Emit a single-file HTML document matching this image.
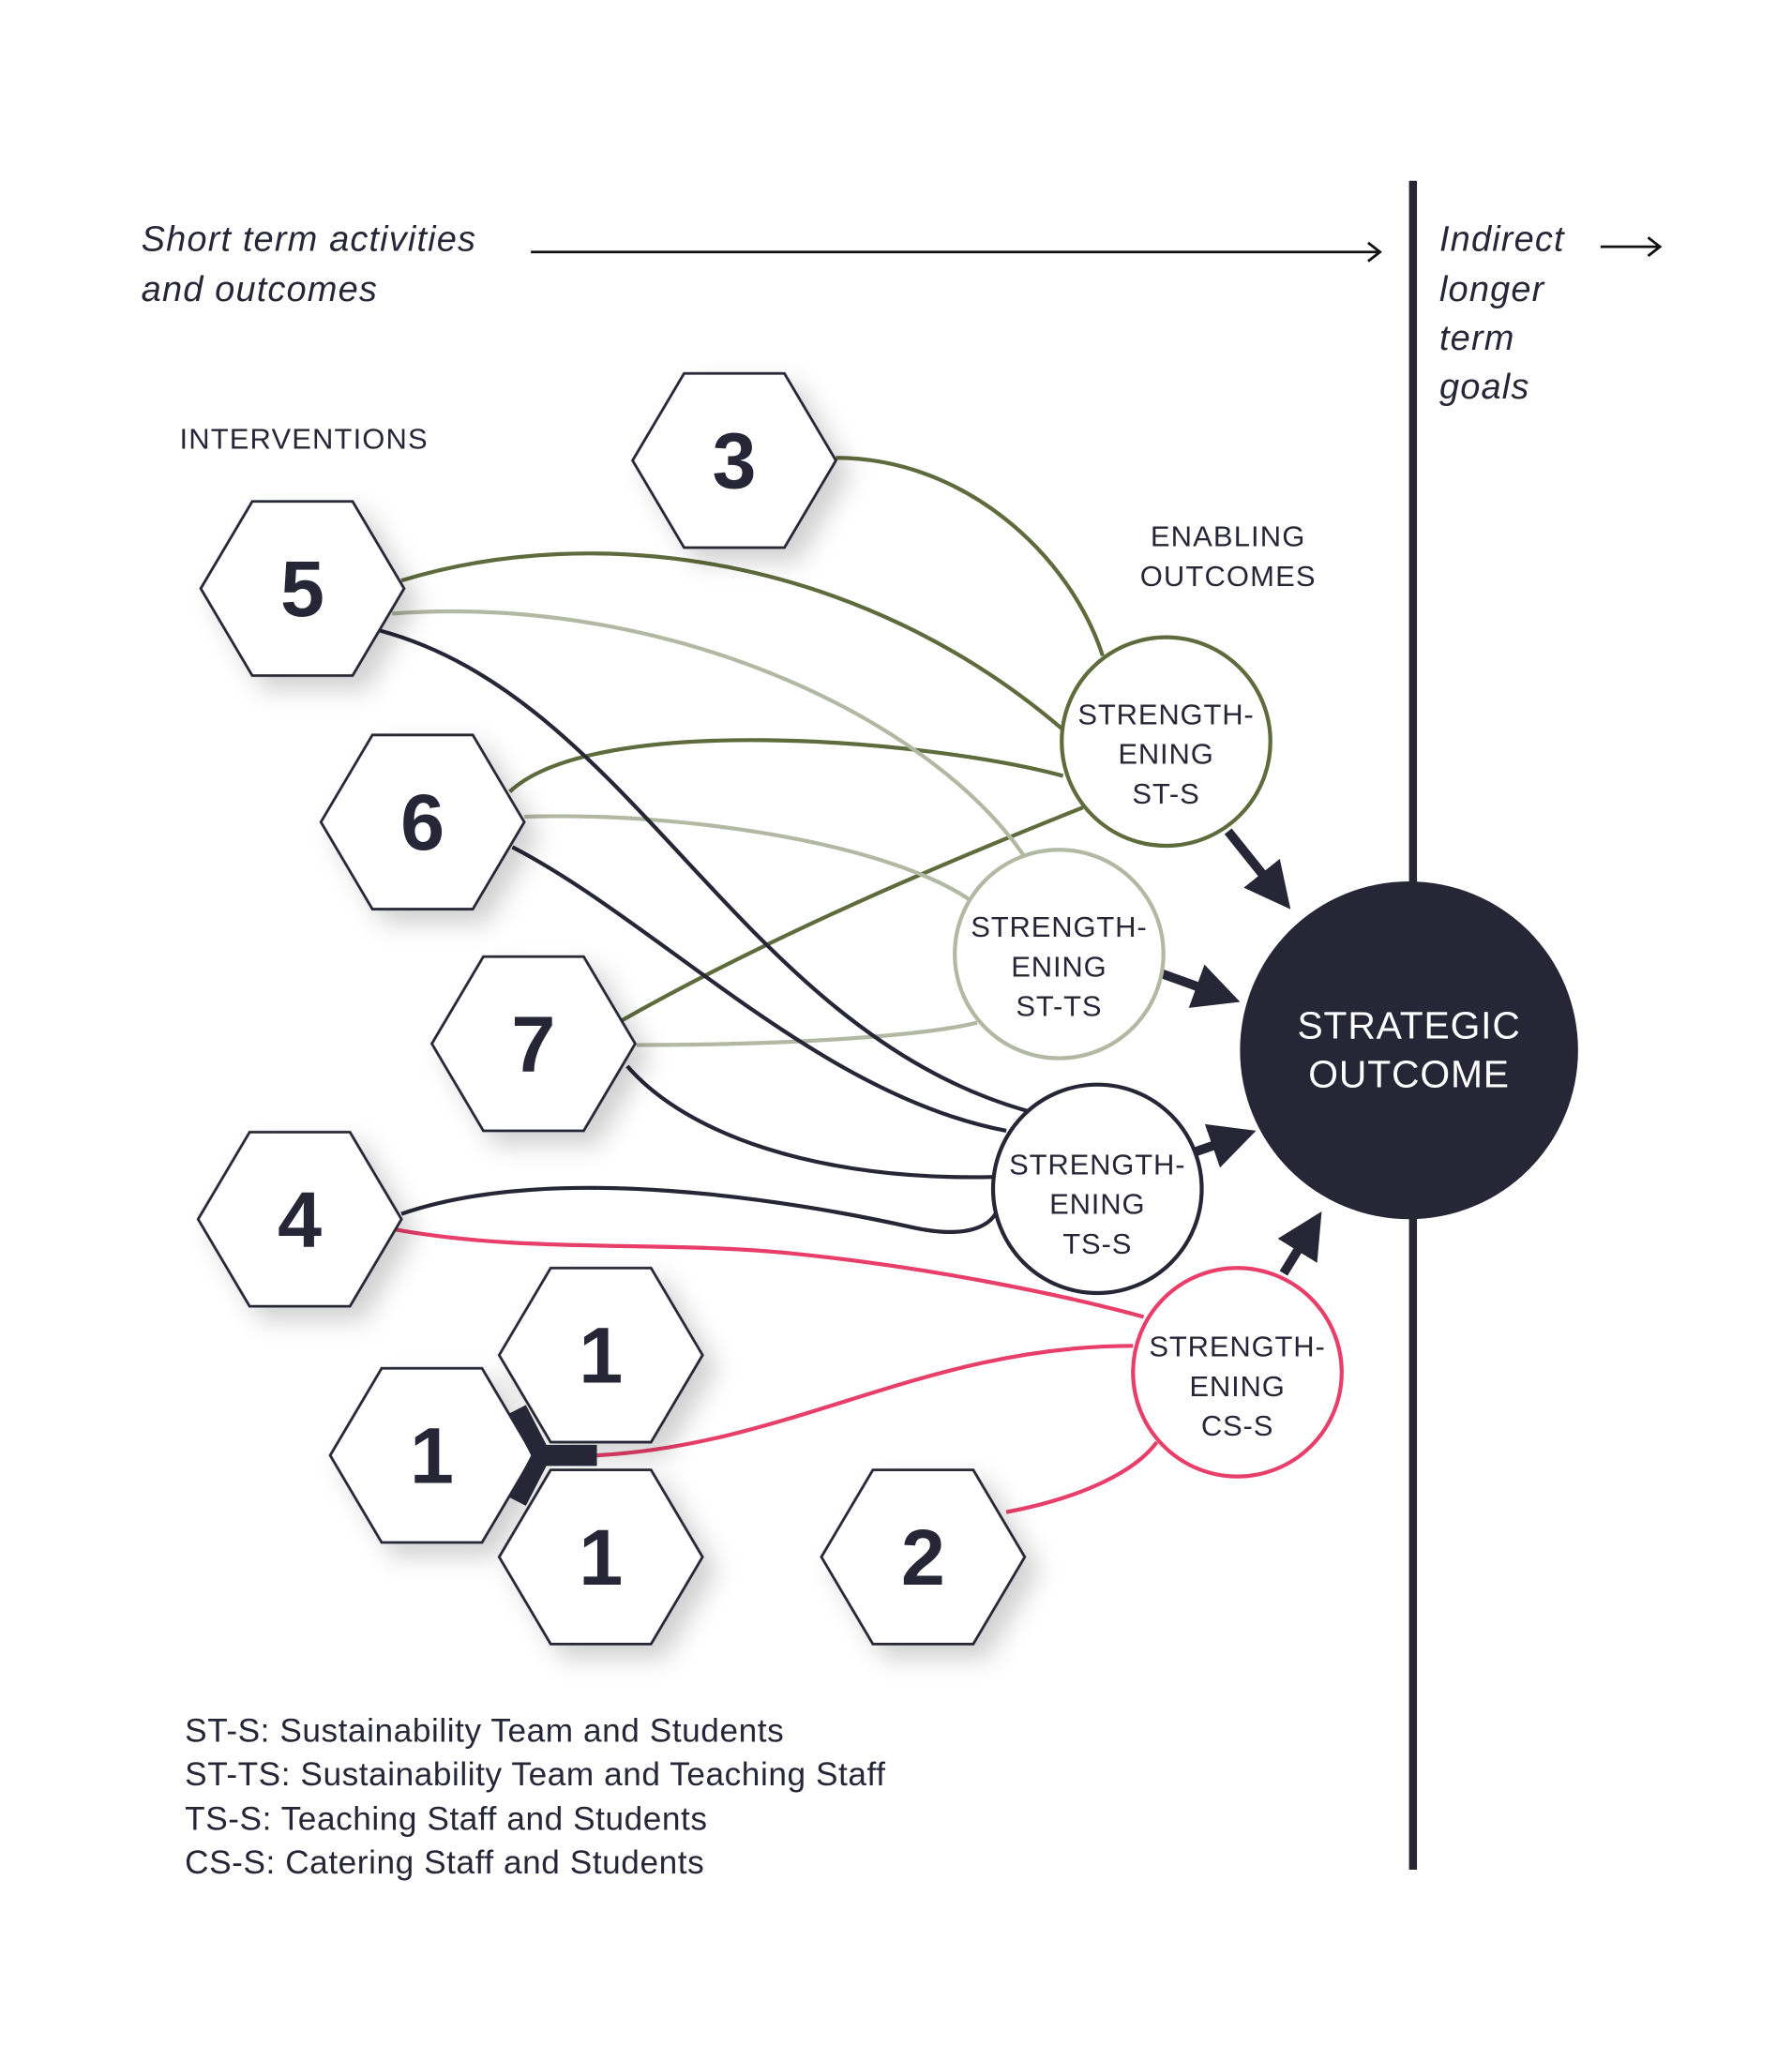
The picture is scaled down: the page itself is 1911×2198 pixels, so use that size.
<!DOCTYPE html>
<html><head><meta charset="utf-8"><style>
html,body{margin:0;padding:0;background:#fff;}
svg{display:block;}
text{font-family:"Liberation Sans",sans-serif;fill:#272636;}
</style></head><body>
<svg width="1911" height="2198" viewBox="0 0 1357 1562" preserveAspectRatio="none" xmlns="http://www.w3.org/2000/svg">
<defs>
<filter id="sh" x="-30%" y="-30%" width="170%" height="170%">
<feDropShadow dx="10" dy="10" stdDeviation="9" flood-color="#000" flood-opacity="0.18"/>
</filter>
<marker id="ah" markerWidth="5" markerHeight="5" refX="1.5" refY="2.5" orient="auto" markerUnits="strokeWidth">
<path d="M0,0 L5,2.5 L0,5 z" fill="#272636"/>
</marker>
<symbol id="hex" overflow="visible"><polygon points="-77,0 -38,-66 38,-66 77,0 38,66 -38,66" fill="#fff" stroke="#272636" stroke-width="2"/></symbol>
</defs>

<rect x="1067" y="137" width="6" height="1280" fill="#272636"/>

<text x="107" y="190" font-size="27" font-style="italic" letter-spacing="0.8">Short term activities</text>
<text x="107" y="228" font-size="27" font-style="italic" letter-spacing="0.8">and outcomes</text>
<line x1="402" y1="191" x2="1044" y2="191" stroke="#111" stroke-width="2"/>
<path d="M1036,184 L1045,191 L1036,198" fill="none" stroke="#111" stroke-width="2"/>
<text x="1090" y="190" font-size="27" font-style="italic" letter-spacing="0.8">Indirect</text>
<text x="1090" y="228" font-size="27" font-style="italic" letter-spacing="0.8">longer</text>
<text x="1090" y="265" font-size="27" font-style="italic" letter-spacing="0.8">term</text>
<text x="1090" y="302" font-size="27" font-style="italic" letter-spacing="0.8">goals</text>
<line x1="1212" y1="187" x2="1256" y2="187" stroke="#111" stroke-width="2"/>
<path d="M1248,180 L1257,187 L1248,194" fill="none" stroke="#111" stroke-width="2"/>

<text x="136" y="340" font-size="22" letter-spacing="0.8">INTERVENTIONS</text>
<text x="930" y="414" font-size="22" text-anchor="middle" letter-spacing="0.8">ENABLING</text>
<text x="930" y="444" font-size="22" text-anchor="middle" letter-spacing="0.8">OUTCOMES</text>

<g fill="none" stroke-width="3">
<path d="M633,347 C730,347 810,420 835,497" stroke="#5e6b3c"/>
<path d="M304,440 C450,395 650,420 805,553" stroke="#5e6b3c"/>
<path d="M386,600 C450,540 700,560 805,588" stroke="#5e6b3c"/>
<path d="M468,775 C600,700 750,640 820,612" stroke="#5e6b3c"/>
<path d="M297,465 C500,450 700,540 775,648" stroke="#b3b8a3"/>
<path d="M397,619 C520,615 680,640 740,686" stroke="#b3b8a3"/>
<path d="M482,792 C600,792 700,785 740,775" stroke="#b3b8a3"/>
<path d="M288,478 C480,530 560,780 778,842" stroke="#272636"/>
<path d="M388,642 C500,700 620,830 762,857" stroke="#272636"/>
<path d="M475,808 C520,860 620,895 752,892" stroke="#272636"/>
<path d="M304,920 C420,880 600,910 690,930 C735,940 752,928 756,915" stroke="#272636"/>
<path d="M300,932 C400,950 500,940 600,950 C700,960 800,980 866,998" stroke="#e83e6a"/>
<path d="M452,1103 C600,1095 700,1020 858,1020" stroke="#e83e6a"/>
<path d="M762,1146 C820,1135 860,1115 876,1093" stroke="#e83e6a"/>
</g>

<g stroke="#272636" stroke-width="7" fill="none" marker-end="url(#ah)">
<line x1="930" y1="630" x2="962" y2="670"/>
<line x1="880" y1="738" x2="916" y2="751"/>
<line x1="905" y1="873" x2="928" y2="865"/>
<line x1="972" y1="965" x2="988" y2="939"/>
</g>

<g filter="url(#sh)">
<use href="#hex" x="556" y="349"/>
<use href="#hex" x="229" y="446"/>
<use href="#hex" x="320" y="623"/>
<use href="#hex" x="404" y="791"/>
<use href="#hex" x="227" y="924"/>
<use href="#hex" x="455" y="1027"/>
<use href="#hex" x="327" y="1103"/>
<use href="#hex" x="455" y="1180"/>
<use href="#hex" x="699" y="1180"/>
</g>
<path d="M392,1068 L410,1103 L392,1138" fill="none" stroke="#272636" stroke-width="14"/>
<line x1="405" y1="1103" x2="452" y2="1103" stroke="#272636" stroke-width="16"/>

<g font-size="60" font-weight="bold" text-anchor="middle">
<text x="556" y="370">3</text>
<text x="229" y="467">5</text>
<text x="320" y="644">6</text>
<text x="404" y="812">7</text>
<text x="227" y="945">4</text>
<text x="455" y="1048">1</text>
<text x="327" y="1124">1</text>
<text x="455" y="1201">1</text>
<text x="699" y="1201">2</text>
</g>

<circle cx="883" cy="562" r="79" fill="#fff" stroke="#5e6b3c" stroke-width="3"/>
<circle cx="802" cy="723" r="79" fill="#fff" stroke="#b3b8a3" stroke-width="3"/>
<circle cx="831" cy="901" r="79" fill="#fff" stroke="#272636" stroke-width="3"/>
<circle cx="937" cy="1040" r="79" fill="#fff" stroke="#e83e6a" stroke-width="3"/>
<circle cx="1067" cy="796" r="128" fill="#272636"/>

<g font-size="22" text-anchor="middle" letter-spacing="0.6">
<text x="883" y="549">STRENGTH-</text><text x="883" y="579">ENING</text><text x="883" y="609">ST-S</text>
<text x="802" y="710">STRENGTH-</text><text x="802" y="740">ENING</text><text x="802" y="770">ST-TS</text>
<text x="831" y="890">STRENGTH-</text><text x="831" y="920">ENING</text><text x="831" y="950">TS-S</text>
<text x="937" y="1028">STRENGTH-</text><text x="937" y="1058">ENING</text><text x="937" y="1088">CS-S</text>
</g>
<text x="1067" y="787" font-size="29" text-anchor="middle" letter-spacing="0.6" style="fill:#fff">STRATEGIC</text>
<text x="1067" y="824" font-size="29" text-anchor="middle" letter-spacing="0.6" style="fill:#fff">OUTCOME</text>

<g font-size="25" letter-spacing="0.4">
<text x="140" y="1320">ST-S: Sustainability Team and Students</text>
<text x="140" y="1353">ST-TS: Sustainability Team and Teaching Staff</text>
<text x="140" y="1387">TS-S: Teaching Staff and Students</text>
<text x="140" y="1420">CS-S: Catering Staff and Students</text>
</g>
</svg>
</body></html>
